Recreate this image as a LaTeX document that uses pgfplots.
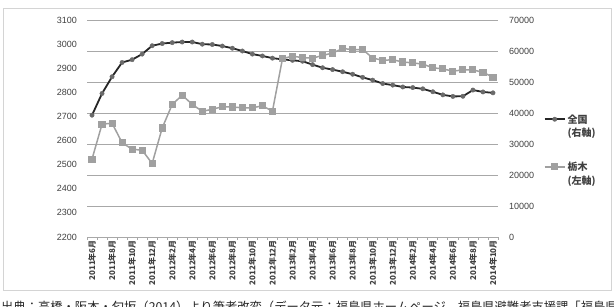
\documentclass[border=0pt]{standalone}
\usepackage{pgfplots}
\pgfplotsset{compat=1.18}
\usepackage{pgfplotstable}
\usepackage{fontspec}
\setmainfont{Liberation Sans}
\newfontfamily\jp{Noto Sans CJK JP}
\definecolor{gridc}{HTML}{A8A8A8}
\definecolor{natc}{HTML}{262626}
\definecolor{natm}{HTML}{6A6A6A}
\definecolor{tochc}{HTML}{A0A0A0}
\definecolor{txt}{HTML}{404040}
\definecolor{framec}{HTML}{D4D4D4}

\pgfplotstableread{
i nat
0 39300
1 46300
2 51700
3 56300
4 57200
5 59000
6 61700
7 62400
8 62700
9 62900
10 62900
11 62200
12 62100
13 61600
14 60900
15 60000
16 59000
17 58400
18 57700
19 57300
20 57000
21 56700
22 55600
23 54600
24 54000
25 53300
26 52500
27 51500
28 50600
29 49500
30 49000
31 48400
32 48200
33 47800
34 46850
35 45850
36 45350
37 45400
38 47400
39 46800
40 46500
}\nattable

\pgfplotstableread{
i toch
0 2523
1 2668
2 2672
3 2591
4 2564
5 2560
6 2505
7 2652
8 2750
9 2788
10 2750
11 2721
12 2730
13 2740
14 2739
15 2736
16 2736
17 2744
18 2722
19 2940
20 2950
21 2944
22 2942
23 2953
24 2963
25 2982
26 2977
27 2978
28 2942
29 2933
30 2935
31 2926
32 2922
33 2917
34 2902
35 2897
36 2888
37 2893
38 2893
39 2883
40 2863
}\tochtable

\begin{document}
\begin{tikzpicture}
\useasboundingbox (0,0) rectangle (614bp,307bp);
\draw[framec, line width=0.8bp] (3bp,17bp) rectangle (611bp,299bp);
\begin{axis}[
  scale only axis, width=411bp, height=217bp,
  at={(87bp,70bp)}, anchor=south west,
  xmin=-0.5, xmax=40.5, ymin=0, ymax=70000,
  axis x line*=bottom, axis y line*=right,
  y axis line style={draw=none},
  x axis line style={gridc, line width=0.8bp, -},
  ytick={0,10000,...,70000},
  ymajorgrids, grid style={gridc, line width=0.8bp},
  ytick style={draw=none},
  scaled y ticks=false,
  yticklabel={\pgfmathprintnumber[assume math mode=true, set thousands separator={}]{\tick}},
  yticklabel style={font=\fontsize{9bp}{10bp}\selectfont, text=txt, anchor=west, inner sep=0pt, xshift=11bp},
  xtick={0,2,...,40},
  xticklabels={2011年6月,2011年8月,2011年10月,2011年12月,2012年2月,2012年4月,2012年6月,2012年8月,2012年10月,2012年12月,2013年2月,2013年4月,2013年6月,2013年8月,2013年10月,2013年12月,2014年2月,2014年4月,2014年6月,2014年8月,2014年10月},
  xticklabel style={font=\jp\bfseries\fontsize{8bp}{9bp}\selectfont, text=txt, inner sep=0pt, yshift=-3bp, rotate=90, anchor=east},
  major x tick style={draw=none},
  minor xtick={-0.5,0.5,...,40.5},
  minor x tick style={gridc, line width=0.8bp},
  tick align=outside,
  major tick length=0pt,
  minor tick length=3bp,
  clip=false,
]
\addplot[natc, line width=1.8bp, mark=*, mark size=2.2bp, mark options={fill=natm, draw=natm, line width=0.4bp}] table[x=i,y=nat]{\nattable};
\end{axis}
\begin{axis}[
  scale only axis, width=411bp, height=217bp,
  at={(87bp,70bp)}, anchor=south west,
  xmin=-0.5, xmax=40.5, ymin=2200, ymax=3100,
  hide x axis, axis y line*=left, y axis line style={draw=none},
  ytick={2200,2300,...,3100}, ytick style={draw=none},
  tick align=outside, major tick length=0pt,
  yticklabel={\pgfmathprintnumber[assume math mode=true, set thousands separator={}]{\tick}},
  yticklabel style={font=\fontsize{9bp}{10bp}\selectfont, text=txt, anchor=east, inner sep=0pt, xshift=-10bp},
  clip=false,
  legend image code/.code={\draw[mark repeat=2,mark phase=2,#1] plot coordinates {(0bp,7bp) (10bp,7bp) (20bp,7bp)};},
  legend style={at={(1.111,0.575)}, anchor=north west, draw=none, fill=none, inner sep=0pt,
    font=\jp\bfseries\fontsize{10bp}{13.5bp}\selectfont, text=txt, cells={align=left}, row sep=20bp},
  legend cell align=left,
]
\addlegendimage{natc, line width=1.8bp, mark=*, mark size=2.2bp, mark options={fill=natm, draw=natm, line width=0.4bp}}
\addlegendentry{全国\\(右軸)}
\addplot[tochc, line width=1.5bp, mark=square*, mark size=2.8bp, mark options={fill=tochc, draw=tochc}] table[x=i,y=toch]{\tochtable};
\addlegendentry{栃木\\(左軸)}
\end{axis}
\node[anchor=base west, inner sep=0pt, font=\jp\fontsize{12.3bp}{13bp}\selectfont, text=black!85] at (1bp,-4.6bp) {出典：高橋・阪本・匂坂（2014）より筆者改変（データ元：福島県ホームページ，福島県避難者支援課「福島県外への避難者数の状況」）};
\end{tikzpicture}
\end{document}
